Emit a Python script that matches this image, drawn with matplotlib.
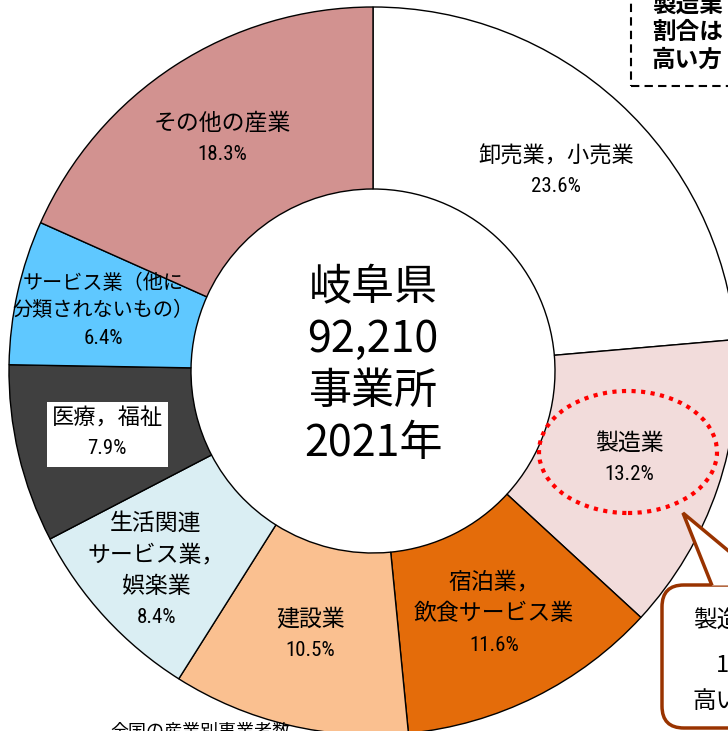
import numpy as np
import matplotlib.pyplot as plt
from matplotlib import font_manager
from matplotlib.patches import Ellipse, FancyBboxPatch, Polygon, Rectangle

plt.rcParams['font.family'] = ['Noto Sans CJK JP', 'DejaVu Sans']

# data (岐阜県 産業別事業所数の構成比, 2021年)
industries = ['卸売業，小売業', '製造業', '宿泊業，\n飲食サービス業', '建設業',
              '生活関連\nサービス業，\n娯楽業', '医療，福祉',
              'サービス業（他に\n分類されないもの）', 'その他の産業']
shares = [23.6, 13.2, 11.6, 10.5, 8.4, 7.9, 6.4, 18.3]
colors = ['#FFFFFF', '#F2DCDB', '#E46C0A', '#FAC090',
          '#DAEEF3', '#404040', '#5FC8FF', '#D29290']

# label look (font size, distance from centre as fraction of radius)
label_size = [16, 16.5, 16.5, 16.5, 16.5, 16, 14.5, 16.5]
label_dist = [0.745, 0.745, 0.745, 0.745, 0.81, 0.75, 0.76, 0.76]

W, H = 728, 731
CX, CY, R = 373, 371, 364   # donut centre / radius in pixels

# narrow font for the percentages if there is one
installed = {f.name for f in font_manager.fontManager.ttflist}
pct_font, pct_size = 'Noto Sans', 14
for cand in ['Liberation Sans Narrow', 'Roboto Condensed', 'Open Sans Condensed']:
    if cand in installed:
        pct_font, pct_size = cand, 15
        break


def px(x, y):
    # pixel (from top-left) -> data coords
    return (x - CX) / R, (CY - y) / R


fig = plt.figure(figsize=(W / 100, H / 100), dpi=100)
ax = fig.add_axes([0, 0, 1, 1])

ax.pie(shares, colors=colors, startangle=90, counterclock=False, radius=1,
       wedgeprops=dict(width=0.5, edgecolor='black', linewidth=1))

# labels in the middle of each ring segment, one text per line
total = sum(shares)
cum = np.cumsum([0] + shares[:-1])
for name, v, c0, fs, dist in zip(industries, shares, cum, label_size, label_dist):
    theta = np.deg2rad(360 * (c0 + v / 2) / total)
    x, y = dist * np.sin(theta), dist * np.cos(theta)
    lines = name.split('\n')
    n = len(lines)
    pitch = fs * 1.9 / R   # line pitch in data units
    if name == '医療，福祉':
        ax.add_patch(Rectangle((x - 60 / R, y - 33 / R), 121 / R, 65 / R,
                               facecolor='white', edgecolor='none', zorder=3))
    for k, s in enumerate(lines):
        ax.text(x, y + (n / 2 - k) * pitch, s, ha='center', va='center',
                fontsize=fs, zorder=4)
    ax.text(x, y - n / 2 * pitch, f'{v:.1f}%', ha='center', va='center',
            fontsize=pct_size, family=[pct_font, 'DejaVu Sans'], zorder=4)

# centre text
ax.text(0, px(0, 366)[1], '岐阜県\n92,210\n事業所\n2021年', ha='center', va='center',
        fontsize=31, linespacing=1.24)

# dotted red ellipse round 製造業
ex, ey = px(628, 452)
ax.add_patch(Ellipse((ex, ey), 178 / R, 122 / R, fill=False, edgecolor='#FF0000',
                     linewidth=3, linestyle=(0, (1, 1.3)), zorder=5))

# speech bubble bottom right
bx, by = px(662, 728)
ax.add_patch(FancyBboxPatch((bx, by), 200 / R, 143 / R,
                            boxstyle='round,pad=0,rounding_size=0.06',
                            facecolor='white', edgecolor='#993300', linewidth=2.5))
tri = [px(712, 585.5), px(683, 513), px(770, 585.5)]
ax.add_patch(Polygon(tri, closed=False, facecolor='white', edgecolor='#993300',
                     linewidth=2.5, joinstyle='miter'))
ax.text(*px(693, 620), '製造', ha='left', va='center', fontsize=17)
ax.text(*px(716, 665), '1', ha='left', va='center', fontsize=17)
ax.text(*px(693, 702), '高い', ha='left', va='center', fontsize=17)

# dashed note box top right
nx, ny = px(631, 86)
ax.add_patch(Rectangle((nx, ny), 200 / R, 200 / R, facecolor='white',
                       edgecolor='black', linewidth=1.5, linestyle=(0, (4, 2.5))))
ax.text(*px(652, 5), '製造業', ha='left', va='center', fontsize=17, fontweight='bold')
ax.text(*px(652, 32), '割合は', ha='left', va='center', fontsize=17, fontweight='bold')
ax.text(*px(652, 60), '高い方', ha='left', va='center', fontsize=17, fontweight='bold')

# cut-off caption at the bottom
ax.text(*px(200, 731), '全国の産業別事業者数', ha='center', va='center', fontsize=13)

ax.set_xlim(-CX / R, (W - CX) / R)
ax.set_ylim(-(H - CY) / R, CY / R)
ax.set_aspect('auto')
ax.axis('off')

fig.savefig('out.png', dpi=100)
